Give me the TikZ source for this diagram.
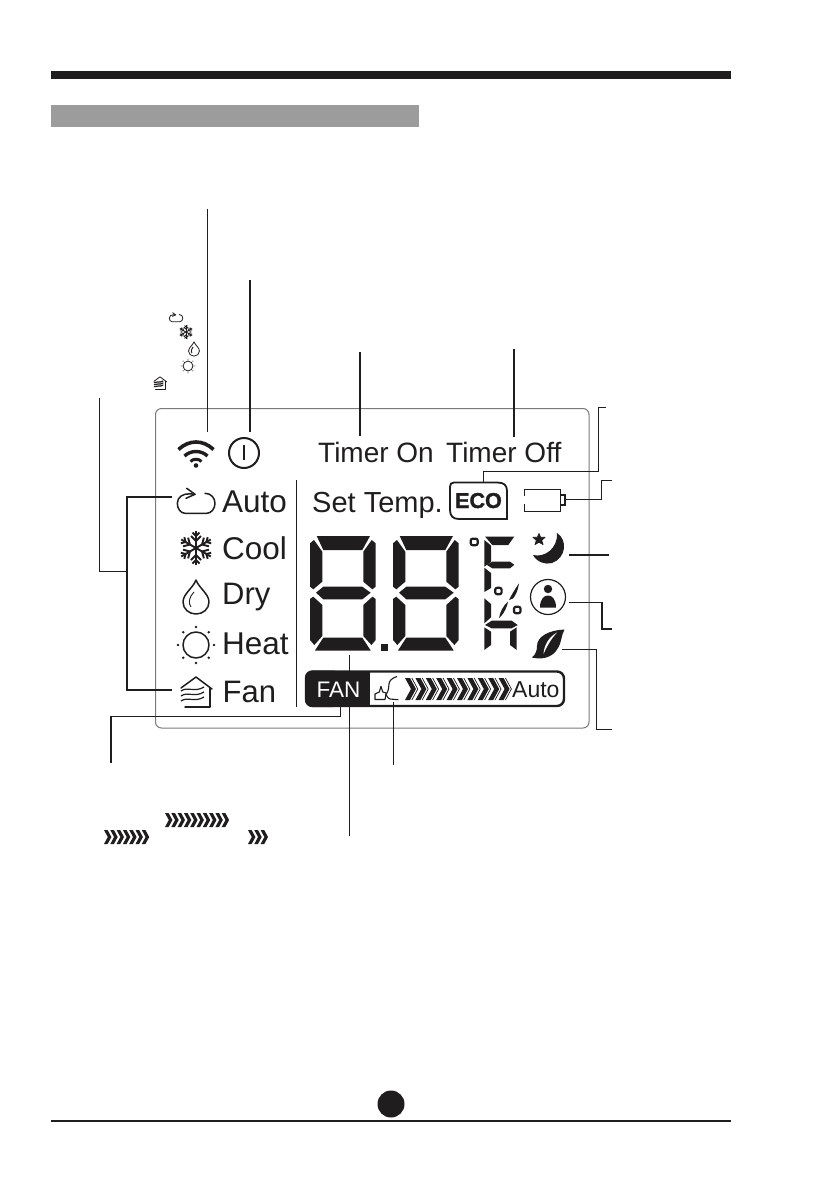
\documentclass[tikz,border=0pt]{standalone}
\usepackage{fontspec}
\setmainfont{Liberation Sans}[BoldFeatures={FakeBold=1.5}]
\definecolor{ink}{HTML}{1F1D1D}
\definecolor{headgray}{HTML}{9C9C9C}
\definecolor{panelgray}{HTML}{7A7A7A}
\newcommand{\barchev}[1]{%
  \fill[ink] (#1,678) -- ({#1+5},678) -- ({#1+11},689) -- ({#1+5},700) -- (#1,700) -- ({#1+6},689) -- cycle;
  \draw[ink,line width=.7pt] ({#1+6.8},678) -- ({#1+12.8},689) -- ({#1+6.8},700);
}
\newcommand{\smallchev}[2]{%
  \fill[ink] (#1,#2) -- ({#1+3.6},#2) -- ({#1+7.4},{#2+7}) -- ({#1+3.6},{#2+14}) -- (#1,{#2+14}) -- ({#1+3.8},{#2+7}) -- cycle;
}
\tikzset{
  lbl/.style={anchor=base west,inner sep=0pt,text=ink,font=\fontsize{#1}{#1}\selectfont},
  lead/.style={draw=ink,line width=1pt},
  leadb/.style={draw=ink,line width=1.8pt},
  ico/.style={draw=ink,line width=1.5pt,line join=round,line cap=round},
  icos/.style={draw=ink,line width=1.9pt,line join=miter,line cap=butt},
  seg/.style={fill=ink,draw=none},
  pics/autoi/.style={code={
    \draw[ico] (9,-9.7) .. controls (15,-9.7) and (19,-5) .. (19,0.3) .. controls (19,6) and (15,10.3) .. (10.7,10.3) -- (-11,10.3) .. controls (-15,10.3) and (-18.7,6) .. (-18.7,0.3) .. controls (-18.7,-6) and (-13,-9.5) .. (-6,-9.2) -- (-1,-8.7);
    \draw[ico] (-9.3,-14.7) -- (-1,-8.7) -- (-10,-4.7);
  }},
  pics/snowi/.style={code={
    \foreach \a in {30,90,...,330}{
      \begin{scope}[rotate=\a]
      \draw[icos] (0,0) -- (17,0);
      \draw[icos] (7,0) -- (12,-5) (7,0) -- (12,5);
      \draw[icos] (12,0) -- (15.5,-3.5) (12,0) -- (15.5,3.5);
      \end{scope}
    }
  }},
  pics/dropi/.style={code={
    \draw[ico] (0,-17) .. controls (3,-9) and (13,-3) .. (13,5) .. controls (13,12) and (7,17) .. (0,17) .. controls (-7,17) and (-13,12) .. (-13,5) .. controls (-13,-3) and (-3,-9) .. (0,-17) -- cycle;
    \draw[draw=ink,line width=.9pt] (-2,-5) .. controls (-7,0) and (-8,6) .. (-5,10);
  }},
  pics/suni/.style={code={
    \draw[ico] (0,0) circle[radius=13];
    \foreach \a in {0,45,...,315}{\fill[ink] (\a:18) circle[radius=1.4];}
  }},
  pics/housei/.style={code={
    \draw[ico] (-15,-4) -- (0,-15) -- (16,-3);
    \draw[ico] (14,-4) -- (14,15) -- (-11,15);
    \draw[draw=ink,line width=1.2pt] (-15,-1) .. controls (-8,-6) and (-2,1) .. (8,-5);
    \draw[draw=ink,line width=1.2pt] (-15,4) .. controls (-8,-1) and (-2,6) .. (8,0);
    \draw[draw=ink,line width=1.2pt] (-15,9) .. controls (-8,4) and (-2,11) .. (8,5);
  }},
  pics/digiti/.style={code={
    \fill[seg] (6.7,0) -- (60,0) -- (52.3,14) -- (13.3,14) -- cycle;
    \fill[seg] (0,7.3) -- (4,4) -- (12.3,15.7) -- (12.3,45.7) -- (3.3,53.3) -- (0,50.7) -- cycle;
    \fill[seg] (65.7,7.3) -- (61.7,4) -- (53.3,15.7) -- (53.3,45.7) -- (62.4,53.3) -- (65.7,50.7) -- cycle;
    \fill[seg] (6,56.7) -- (13.3,50.7) -- (52.3,50.7) -- (60.7,56.7) -- (52.3,63.3) -- (13.3,63.3) -- cycle;
    \fill[seg] (0,63) -- (3.3,60.7) -- (12.3,69) -- (12.3,100) -- (4.3,109) -- (0,104) -- cycle;
    \fill[seg] (65.7,63) -- (62.4,60.7) -- (53.3,69) -- (53.3,100) -- (61.4,109) -- (65.7,104) -- cycle;
    \fill[seg] (13.3,101.7) -- (52.3,101.7) -- (60.7,114.5) -- (5,114.5) -- cycle;
  }},
}
\begin{document}
\begin{tikzpicture}[x=1pt,y=-1pt]
\useasboundingbox (0,0) rectangle (839,1191);
\fill[white] (0,0) rectangle (839,1191);
% header and footer
\fill[ink] (51,71) rectangle (731,79);
\fill[headgray] (51,105) rectangle (419,127);
\draw[ink,line width=2pt] (51,1121) -- (731,1121);
\fill[ink] (391,1104) circle[radius=13.5];
% panel
\draw[panelgray,line width=1pt,rounded corners=6pt] (155.5,408.5) rectangle (589,728);
\draw[ink,line width=1pt] (296,480) -- (296,707);
% free ends and attachment points
\coordinate (wifitop) at (207,209);
\coordinate (wifiend) at (207,432);
\coordinate (powtop) at (250,280);
\coordinate (powend) at (250,432);
\coordinate (tontop) at (360,352);
\coordinate (tonend) at (360,436);
\coordinate (tofftop) at (514,349);
\coordinate (toffend) at (514,437);
\coordinate (modetop) at (99,398);
\coordinate (modejoin) at (99,571);
\coordinate (modebar) at (127,571);
\coordinate (autoend) at (172,497);
\coordinate (fanend) at (172,690);
\coordinate (fansrc) at (340,705);
\coordinate (fanfree) at (111,763);
\coordinate (digitsrc) at (349.5,655);
\coordinate (digitfree) at (349.5,836);
\coordinate (earsrc) at (393,702);
\coordinate (earfree) at (393,765);
\coordinate (ecosrc) at (483,482);
\coordinate (ecofree) at (606,407.5);
\coordinate (batsrc) at (566,499);
\coordinate (batfree) at (612,480);
\coordinate (moonsrc) at (569,555);
\coordinate (moonfree) at (609,555);
\coordinate (persrc) at (569,602);
\coordinate (perfree) at (612,629);
\coordinate (leafsrc) at (562,649);
\coordinate (leaffree) at (612,729);
% connectors
\draw[lead] (wifitop) -- (wifiend);
\draw[leadb] (powtop) -- (powend);
\draw[lead,line width=1.2pt] (tontop) -- (tonend);
\draw[leadb,line width=1.4pt] (tofftop) -- (toffend);
\draw[lead] (modetop) -- (modejoin) -- (modebar);
\draw[leadb,line width=1.4pt] (autoend) -| (modebar) |- (fanend);
\draw[lead] (fansrc) |- (fanfree |- 0,716) -- (fanfree);
\draw[leadb] (fanfree |- 0,716) -- (fanfree);
\draw[lead] (digitsrc) -- (digitfree);
\draw[lead] (earsrc) -- (earfree);
\draw[lead] (ecosrc) |- (598,471) |- (ecofree);
\draw[lead] (batsrc) -| (601,480) -- (batfree);
\draw[leadb] (moonsrc) -- (moonfree);
\draw[lead] (persrc) -| (602,629);
\draw[leadb,line width=1.4pt] (602,602) |- (perfree);
\draw[lead] (leafsrc) -| (596,729) -- (leaffree);
% small legend icons
\begin{scope}[ico/.append style={line width=.8pt},icos/.append style={line width=.9pt}]
\pic[scale=.36] at (176,318) {autoi};
\pic[scale=.41] at (186,332) {snowi};
\pic[scale=.42] at (194,349) {dropi};
\pic[scale=.38] at (188,366) {suni};
\pic[scale=.41] at (160,383) {housei};
\end{scope}
% wifi, power
\draw[draw=ink,line width=3.6pt] (178.5,449.5) .. controls (189,439.5) and (203,439.5) .. (213.5,449.5);
\draw[draw=ink,line width=3.4pt] (184.5,456) .. controls (191,450) and (201,450) .. (207.5,456);
\draw[draw=ink,line width=3pt] (190.5,461.5) .. controls (193,458.5) and (199,458.5) .. (201.5,461.5);
\fill[ink] (196,465.5) circle[radius=2.3];
\draw[ink,line width=2pt] (244,453) circle[radius=15];
\draw[ink,line width=1.5pt] (244,445) -- (244,460);
% labels
\node[lbl=28] (ton) at (318,462) {Timer On};
\node[lbl=28] (toff) at (446,462) {Timer Off};
\node[lbl=29] (settemp) at (312,512) {Set Temp.};
\node[lbl=31.5] (lauto) at (222,512) {Auto};
\node[lbl=31.5] (lcool) at (222,559) {Cool};
\node[lbl=31] (ldry) at (222,604) {Dry};
\node[lbl=31.5] (lheat) at (222,654) {Heat};
\node[lbl=31] (lfan) at (222.5,702) {Fan};
% mode icons
\pic at (196,503) {autoi};
\pic at (196,548) {snowi};
\pic at (196,597) {dropi};
\pic at (196,645) {suni};
\pic at (196,692) {housei};
% ECO
\draw[ink,line width=1.8pt] (507,519) -- (459,519) .. controls (453,519) and (450,516) .. (450,510) -- (450,487) .. controls (450,484) and (451,482.5) .. (454,482.5) -- (497,482.5) .. controls (504,482.5) and (507,485) .. (507,491) -- cycle;
\node[anchor=base,inner sep=0pt,text=ink,font=\fontsize{21.5}{21.5}\selectfont\bfseries] (eco) at (478.5,508) {ECO};
% battery
\draw[ink,line width=1.3pt] (524.5,496) -- (524.5,489.5) -- (560.5,489.5) -- (560.5,511.5) -- (524.5,511.5) -- (524.5,504);
\draw[ink,line width=1.3pt] (560.5,495) -- (565,495) -- (565,505) -- (560.5,505);
% moon
\fill[ink] (557,533) .. controls (568,540) and (566,558) .. (552,563) .. controls (545,565) and (537,562) .. (533,555) .. controls (545,558) and (558,548) .. (557,533) -- cycle;
\filldraw[ink,line width=.8pt,line join=round] (539,533.5) -- (540.6,537.3) -- (545,537.3) -- (541.6,540.3) -- (543,544.5) -- (539,542.2) -- (535,544.5) -- (536.4,540.3) -- (533,537.3) -- (537.4,537.3) -- cycle;
% person
\draw[ink,line width=1.2pt] (548,597) circle[radius=17.5];
\fill[ink] (548,589) circle[radius=4.2];
\fill[ink] (540,607.5) .. controls (540,599) and (544,595.5) .. (548,595.5) .. controls (552,595.5) and (556,599) .. (556,607.5) -- cycle;
% leaf
\fill[ink] (564.5,629.5) .. controls (550,630) and (537,636) .. (537,646) .. controls (537,650) and (536,654) .. (532,657.5) .. controls (540,659.5) and (552,659) .. (558,648) .. controls (562,641) and (561,636) .. (564.5,629.5) -- cycle;
\fill[white] (543.5,654) .. controls (544,645) and (549,637) .. (557,632.5) .. controls (551,639) and (547,646) .. (543.5,654) -- cycle;
% big digits
\pic at (310,536) {digiti};
\begin{scope}[shift={(393,536)},xscale=1.02]
\pic {digiti};
\end{scope}
\fill[ink] (381,643.5) rectangle (388,651);
% degree, F, percent, h
\draw[ink,line width=2.2pt,rounded corners=2pt] (470.7,538.7) rectangle (477.7,545.2);
\fill[seg] (485,536.5) -- (514.3,536.5) -- (508.3,545) -- (492.3,545) -- cycle;
\fill[seg] (484.3,540) -- (491,545.5) -- (491,562) -- (484.3,566.7) -- cycle;
\fill[seg] (486.7,564.8) -- (492.3,561.7) -- (510,561.7) -- (514.3,564.8) -- (510,568.3) -- (492.3,568.3) -- cycle;
\fill[seg] (484.3,567.7) -- (491,573) -- (491,588) -- (484.3,592) -- cycle;
\fill[seg] (484.3,598.3) -- (491,604) -- (491,617.3) -- (484.3,623.3) -- cycle;
\fill[seg] (485,625) -- (491.7,620.7) -- (511.7,620.7) -- (517.7,625) -- (511.7,628.3) -- (491.7,628.3) -- cycle;
\fill[seg] (484.3,627.3) -- (491,631.7) -- (491,645) -- (484.3,650) -- cycle;
\fill[seg] (516.7,627.3) -- (510,631.7) -- (510,645) -- (516.7,650) -- cycle;
\draw[ink,line width=2.2pt,rounded corners=2pt] (495.2,587.8) rectangle (501.6,594.2);
\draw[ink,line width=2.2pt,rounded corners=2pt] (514,606.8) rectangle (520.5,613.2);
\fill[ink] (519,583.3) .. controls (518,590) and (516,595) .. (513,598.5) -- (509,600) .. controls (512,594) and (515,589) .. (519,583.3) -- cycle;
\fill[ink] (508,601.5) .. controls (507,607) and (504.5,612) .. (502,615) -- (499,618) .. controls (500,612) and (503,606) .. (508,601.5) -- cycle;
% fan bar
\draw[ink,line width=2.4pt,rounded corners=7pt] (306,671.5) rectangle (564,706);
\fill[ink,rounded corners=7pt] (305,670.5) -- (340,670.5) -- (340,707) -- (305,707) -- cycle;
\fill[ink] (320,670.5) rectangle (370,707);
\node[anchor=base west,inner sep=0pt,text=white,font=\fontsize{22.5}{22.5}\selectfont] (fan) at (316.5,697) {FAN};
\node[lbl=23] (bauto) at (512,697) {Auto};
\draw[ink,line width=1.1pt] (397,676.5) .. controls (392,678) and (389,681) .. (389,684) .. controls (388.5,688) and (389,690) .. (386,694.7) .. controls (388,697) and (388,699) .. (390,699) -- (398.3,699.7);
\draw[ink,line width=1.1pt,line join=round] (375,699.5) -- (375,694) -- (379.3,692) -- (381,686.3) -- (382.7,692) -- (386.2,693) -- (385,699.5) -- cycle;
% chevrons
\foreach \i in {0,...,9}{
  \pgfmathsetmacro{\xa}{405+10.4*\i}
  \pgfmathsetmacro{\xb}{165+6.3*\i}
  \barchev{\xa}
  \smallchev{\xb}{813}
}
\foreach \i in {0,...,6}{\pgfmathsetmacro{\xa}{104+6.3*\i}\smallchev{\xa}{830}}
\foreach \i in {0,1,2}{\pgfmathsetmacro{\xa}{248+6.3*\i}\smallchev{\xa}{830}}
\end{tikzpicture}
\end{document}
